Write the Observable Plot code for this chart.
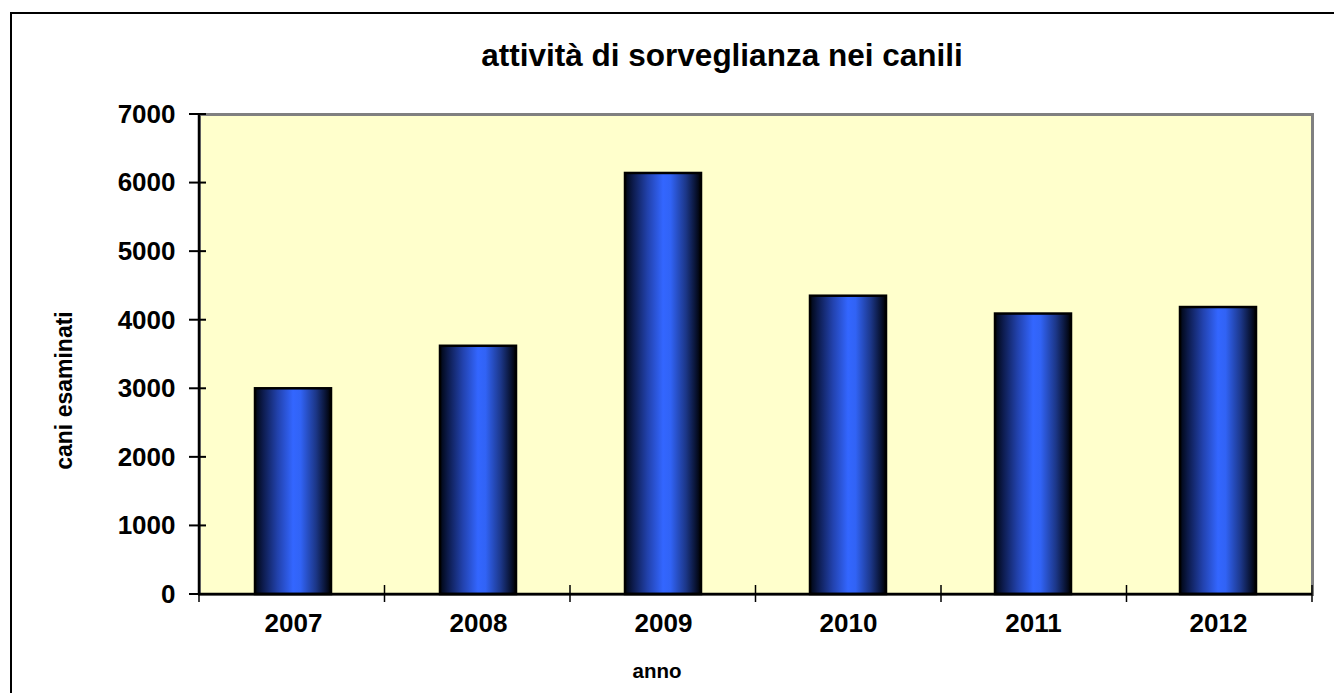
<!DOCTYPE html>
<html>
<head>
<meta charset="utf-8">
<script src="https://cdn.jsdelivr.net/npm/d3@7"></script>
<script src="https://cdn.jsdelivr.net/npm/@observablehq/plot@0.6"></script>
<style>
  html, body { margin: 0; padding: 0; background: #fff; overflow: hidden; }
  #wrap { position: relative; width: 1334px; height: 693px; overflow: hidden; font-family: "Liberation Sans", Arial, sans-serif; }
  #border { position: absolute; left: 10px; top: 12px; width: 3000px; height: 3000px; border-left: 2px solid #000; border-top: 2px solid #000; }
  #titlebox { position: relative; height: 90px; }
  #title { position: absolute; left: 722px; top: 40px; transform: translateX(-50%); font-size: 31.5px; line-height: 31px; font-weight: bold; color: #000; white-space: nowrap; }
  #chart { position: relative; }
</style>
</head>
<body>
<div id="wrap">
  <div id="border"></div>
  <div id="titlebox"><div id="title">attività di sorveglianza nei canili</div></div>
  <div id="chart"></div>
</div>
<script>
const years = ["2007", "2008", "2009", "2010", "2011", "2012"];
const values = [3000, 3620, 6140, 4350, 4090, 4185];
const yTicks = [0, 1000, 2000, 3000, 4000, 5000, 6000, 7000];
const yLabel = "cani esaminati";
const xLabel = "anno";

const data = years.map((year, i) => ({year, value: values[i]}));

function gradientDefs() {
  const defs = d3.create("svg:defs");
  const g = defs.append("linearGradient").attr("id", "barGrad")
    .attr("x1", "0%").attr("x2", "100%").attr("y1", "0%").attr("y2", "0%");
  [["0%", "#000612"], ["10%", "#0c1a4a"], ["30%", "#2242ad"], ["50%", "#3366ff"],
   ["60%", "#3163f5"], ["80%", "#1c3789"], ["94%", "#07102c"], ["100%", "#000000"]]
    .forEach(([o, c]) => g.append("stop").attr("offset", o).attr("stop-color", c));
  return defs.node();
}

function axisLines(index, scales, values, dims) {
  const {width, height, marginLeft: ml, marginRight: mr, marginTop: mt, marginBottom: mb} = dims;
  const g = d3.create("svg:g").attr("stroke", "#000").attr("fill", "none");
  const x0 = ml, x1 = width - mr, y0 = height - mb;
  g.append("line").attr("x1", x0).attr("x2", x0).attr("y1", mt).attr("y2", y0 + 1).attr("stroke-width", 2.5);
  g.append("line").attr("x1", x0).attr("x2", x1).attr("y1", y0).attr("y2", y0).attr("stroke-width", 2.5);
  for (const t of yTicks) {
    const y = scales.y(t);
    g.append("line").attr("x1", x0 - 10).attr("x2", x0 + 7).attr("y1", y).attr("y2", y).attr("stroke-width", 2);
  }
  const n = years.length, step = (x1 - x0) / n;
  for (let k = 0; k <= n; k++) {
    const x = x0 + k * step;
    g.append("line").attr("x1", x).attr("x2", x).attr("y1", y0 - 9).attr("y2", y0 + 8).attr("stroke-width", 1.5);
  }
  return g.node();
}

const chart = Plot.plot({
  width: 1334,
  height: 603,
  marginLeft: 199,
  marginRight: 22,
  marginTop: 24,
  marginBottom: 99,
  style: {fontFamily: "'Liberation Sans', Arial, sans-serif", background: "transparent", overflow: "visible", color: "#000"},
  x: {domain: years, paddingInner: 0.59, paddingOuter: 0.295, label: null},
  y: {domain: [0, 7000], label: null},
  marks: [
    gradientDefs,
    Plot.frame({fill: "#FFFFCC", stroke: "#808080", strokeWidth: 3}),
    Plot.barY(data, {x: "year", y: "value", fill: "url(#barGrad)", stroke: "#000", strokeWidth: 2.5}),
    axisLines,
    Plot.axisY({ticks: yTicks, tickFormat: d => String(d), tickSize: 0, tickPadding: 24, fontSize: 26, fontWeight: "bold", label: null}),
    Plot.axisX({tickSize: 0, tickPadding: 19, fontSize: 26, fontWeight: "bold", label: null}),
    Plot.text([yLabel], {text: d => d, frameAnchor: "left", textAnchor: "middle", dx: -135, dy: 36, rotate: -90, fontSize: 23, fontWeight: "bold", lineAnchor: "middle"}),
    Plot.text([xLabel], {text: d => d, frameAnchor: "bottom", textAnchor: "middle", dx: -99, dy: 77, fontSize: 20.5, fontWeight: "bold", lineAnchor: "middle"})
  ]
});
document.getElementById("chart").appendChild(chart);
</script>
</body>
</html>
